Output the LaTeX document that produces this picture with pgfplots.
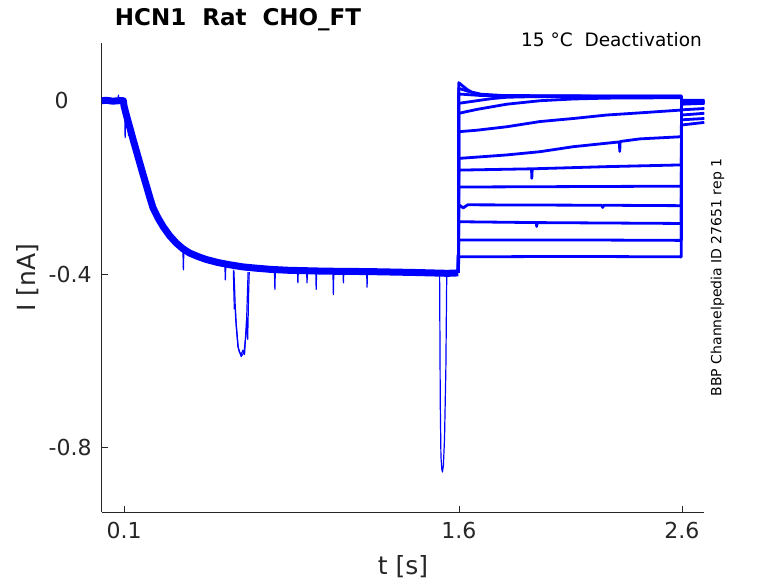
\documentclass[border=0pt]{standalone}
\usepackage{pgfplots}
\pgfplotsset{compat=1.18}
\usepackage{fontspec}
\setmainfont{DejaVu Sans}
\definecolor{axgray}{RGB}{38,38,38}
\definecolor{tr}{RGB}{0,0,255}
\begin{document}
\begin{tikzpicture}
\useasboundingbox (0,0) rectangle (778pt,583pt);
\begin{axis}[
  at={(101.7pt,70.7pt)}, anchor=south west,
  width=602.6pt, height=469.6pt, scale only axis,
  xmin=0, xmax=2.7, ymin=-0.949, ymax=0.1338,
  axis lines=left, axis line style={-, axgray, line width=0.6pt},
  tick align=inside, major tick length=6.5pt,
  tick style={axgray, line width=0.6pt},
  xtick={0.1,1.6,2.6}, xticklabels={0.1,1.6,2.6},
  ytick={-0.8,-0.4,0}, yticklabels={-0.8,-0.4,{0\rule{23pt}{0pt}}},
  ticklabel style={font=\fontsize{22}{26}\selectfont, text=axgray, inner sep=0pt},
  xticklabel style={anchor=north, yshift=-9.4pt},
  yticklabel style={anchor=east, xshift=-10pt},
  xlabel={t [s]}, ylabel={I [nA]},
  label style={font=\fontsize{25}{30}\selectfont, text=axgray},
  xlabel style={at={(axis description cs:0.5,0)}, anchor=base, yshift=-61.7pt},
  ylabel style={at={(axis description cs:0,0.5)}, anchor=center, yshift=73.7pt},
  unbounded coords=jump,
  every axis plot/.append style={tr, line join=round},
]
% common activation phase (all sweeps overlaid)
\addplot[line width=7pt] coordinates {
(0,0) (0.02,0.001) (0.05,-0.001) (0.075,0.0) (0.097,0.0) (0.1,-0.012) (0.112,-0.036)
(0.125,-0.06) (0.141,-0.090) (0.156,-0.117) (0.171,-0.144) (0.186,-0.171) (0.201,-0.197)
(0.215,-0.222) (0.230,-0.247) (0.252,-0.270) (0.275,-0.290) (0.304,-0.311) (0.334,-0.328)
(0.363,-0.341) (0.393,-0.351) (0.43,-0.359) (0.468,-0.366) (0.52,-0.373) (0.571,-0.378)
(0.63,-0.383) (0.690,-0.386) (0.76,-0.389) (0.838,-0.391) (1.0,-0.393) (1.2,-0.394)
(1.4,-0.396) (1.55,-0.398) (1.598,-0.397)};
% artefacts
\addplot[line width=1.2pt] coordinates {
(0.590,-0.392) (0.594,-0.48) (0.598,-0.47) (0.603,-0.52) (0.61,-0.565) (0.617,-0.58)
(0.625,-0.585) (0.633,-0.575) (0.640,-0.585) (0.645,-0.54) (0.650,-0.50) (0.654,-0.55)
(0.658,-0.45) (0.661,-0.395)};
\addplot[line width=1.2pt] coordinates {
(0.592,-0.39) (0.596,-0.44) (0.600,-0.50) (0.612,-0.57) (0.625,-0.59) (0.638,-0.58)
(0.648,-0.53) (0.652,-0.46) (0.656,-0.395)};
\addplot[line width=1.2pt] coordinates {
(1.514,-0.40) (1.517,-0.70) (1.520,-0.82) (1.524,-0.85) (1.527,-0.856) (1.531,-0.84)
(1.536,-0.78) (1.542,-0.62) (1.546,-0.40)};
\addplot[line width=1.2pt] coordinates {
(0.073,0.002) (0.075,0.013) (0.077,0.002) (0.078,nan)
(0.103,-0.02) (0.105,-0.085) (0.108,-0.03) (0.110,nan)
(0.118,-0.045) (0.120,-0.08) (0.123,-0.05) (0.125,nan)
(0.364,-0.345) (0.366,-0.39) (0.368,-0.345) (0.370,nan)
(0.552,-0.38) (0.554,-0.413) (0.556,-0.38) (0.558,nan)
(0.774,-0.39) (0.776,-0.435) (0.778,-0.39) (0.780,nan)
(0.877,-0.39) (0.879,-0.42) (0.881,-0.39) (0.883,nan)
(0.918,-0.39) (0.920,-0.42) (0.922,-0.39) (0.924,nan)
(0.959,-0.39) (0.961,-0.435) (0.963,-0.39) (0.965,nan)
(1.036,-0.39) (1.038,-0.447) (1.040,-0.39) (1.042,nan)
(1.081,-0.39) (1.083,-0.42) (1.085,-0.39) (1.087,nan)
(1.187,-0.39) (1.189,-0.43) (1.191,-0.39)};
% deactivation sweeps
\addplot[line width=2.8pt] coordinates {(1.598,-0.397) (1.600,0.0416) (1.62,0.033) (1.64,0.025) (1.66,0.019) (1.681,0.015) (1.75,0.012) (1.9,0.011) (2.1,0.011) (2.3,0.010) (2.5,0.010) (2.597,0.010) (2.598,0.0) (2.65,0.0) (2.7,0.0)};
\addplot[line width=2.8pt] coordinates {(1.598,-0.397) (1.600,0.0285) (1.64,0.022) (1.70,0.015) (1.8,0.012) (2.2,0.011) (2.597,0.011) (2.598,-0.002) (2.7,-0.001)};
\addplot[line width=2.8pt] coordinates {(1.598,-0.397) (1.600,0.0155) (1.70,0.012) (2.0,0.010) (2.597,0.010) (2.598,0.001) (2.7,0.001)};
\addplot[line width=2.8pt] coordinates {(1.598,-0.397) (1.600,-0.006) (1.681,0.0) (1.75,0.005) (1.815,0.008) (1.9,0.009) (2.597,0.009) (2.598,-0.003) (2.7,-0.002)};
\addplot[line width=2.8pt] coordinates {(1.598,-0.397) (1.600,-0.029) (1.681,-0.020) (1.815,-0.008) (1.964,0.0) (2.113,0.004) (2.262,0.006) (2.597,0.007) (2.598,-0.004) (2.7,-0.003)};
\addplot[line width=2.8pt] coordinates {(1.598,-0.397) (1.600,-0.0714) (1.681,-0.068) (1.815,-0.060) (1.964,-0.048) (2.113,-0.041) (2.262,-0.033) (2.411,-0.028) (2.597,-0.0215) (2.598,-0.005) (2.7,-0.004)};
\addplot[line width=2.8pt] coordinates {(1.598,-0.397) (1.600,-0.133) (1.681,-0.130) (1.815,-0.125) (1.964,-0.1175) (2.113,-0.106) (2.262,-0.098) (2.32,-0.095) (2.321,-0.117) (2.323,-0.094) (2.411,-0.088) (2.597,-0.083) (2.598,-0.006) (2.7,-0.005)};
\addplot[line width=2.8pt] coordinates {(1.598,-0.397) (1.600,-0.160) (1.926,-0.157) (1.927,-0.179) (1.929,-0.157) (2.262,-0.152) (2.597,-0.148) (2.598,-0.007) (2.7,-0.005)};
\addplot[line width=2.8pt] coordinates {(1.598,-0.397) (1.600,-0.199) (2.1,-0.198) (2.597,-0.197) (2.598,-0.008) (2.7,-0.006)};
\addplot[line width=2.8pt] coordinates {(1.598,-0.397) (1.600,-0.240) (1.62,-0.247) (1.64,-0.240) (2.24,-0.241) (2.245,-0.246) (2.25,-0.241) (2.597,-0.242) (2.598,-0.021) (2.7,-0.018)};
\addplot[line width=2.8pt] coordinates {(1.598,-0.397) (1.600,-0.279) (1.948,-0.281) (1.949,-0.290) (1.951,-0.281) (2.597,-0.283) (2.598,-0.033) (2.7,-0.029)};
\addplot[line width=2.8pt] coordinates {(1.598,-0.397) (1.600,-0.321) (2.1,-0.321) (2.597,-0.322) (2.598,-0.044) (2.7,-0.041)};
\addplot[line width=2.8pt] coordinates {(1.598,-0.397) (1.600,-0.360) (2.1,-0.359) (2.597,-0.360) (2.598,-0.056) (2.7,-0.050)};
\end{axis}
\node[anchor=base west, font=\fontsize{23}{27}\selectfont\bfseries, inner sep=0pt] at (114.7pt,557pt) {HCN1~~Rat~~CHO\_FT};
\node[anchor=base east, font=\fontsize{18.5}{22}\selectfont, inner sep=0pt] at (702pt,536pt) {15~°C~~Deactivation};
\node[rotate=90, anchor=center, font=\fontsize{14}{17}\selectfont, inner sep=0pt] at (717.5pt,305.5pt) {BBP Channelpedia ID 27651 rep 1};
\end{tikzpicture}
\end{document}
